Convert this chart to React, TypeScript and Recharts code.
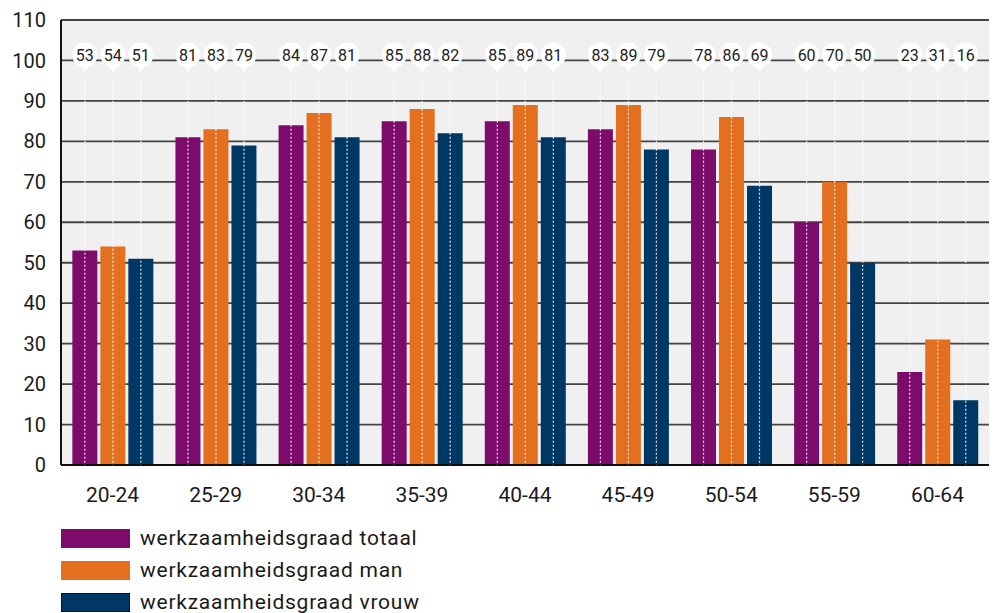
import React from 'react';
import { BarChart, Bar, XAxis, YAxis, CartesianGrid, Legend, LabelList } from 'recharts';

const ageGroups = ['20-24', '25-29', '30-34', '35-39', '40-44', '45-49', '50-54', '55-59', '60-64'];
const totaal = [53, 81, 84, 85, 85, 83, 78, 60, 23];
const man = [54, 83, 87, 88, 89, 89, 86, 70, 31];
const vrouw = [51, 79, 81, 82, 81, 78, 69, 50, 16];
// labels as printed in the pins of the reference
const totaalLabels = ['53', '81', '84', '85', '85', '83', '78', '60', '23'];
const manLabels = ['54', '83', '87', '88', '89', '89', '86', '70', '31'];
const vrouwLabels = ['51', '79', '81', '82', '81', '79', '69', '50', '16'];
const yTicks = [0, 10, 20, 30, 40, 50, 60, 70, 80, 90, 100, 110];
const boundaryTicks = [1, 2, 3, 4, 5, 6, 7, 8, 9];

const seriesNames = {
  totaal: 'werkzaamheidsgraad totaal',
  man: 'werkzaamheidsgraad man',
  vrouw: 'werkzaamheidsgraad vrouw',
};

const COLORS = { totaal: '#7d0b6c', man: '#e46f1f', vrouw: '#003865' };

const data = ageGroups.map((age, i) => ({
  age,
  totaal: totaal[i],
  man: man[i],
  vrouw: vrouw[i],
  totaalLabel: totaalLabels[i],
  manLabel: manLabels[i],
  vrouwLabel: vrouwLabels[i],
}));

const PIN_VALUE = 100;
const LINE_TOP_VALUE = 95;
const FONT = 'Roboto, "DejaVu Sans", sans-serif';

const makePin = (valueKey: 'totaal' | 'man' | 'vrouw') => (props: any) => {
  const vb = props.viewBox || {};
  const x = vb.x ?? props.x;
  const y = vb.y ?? props.y;
  const w = vb.width ?? props.width;
  const h = vb.height ?? props.height;
  const idx = props.index;
  const entry = data[idx];
  if (!entry) return null;
  const value = Number(entry[valueKey]);
  if (!value || !h) return null;
  const base = y + h;
  const ppu = h / value;
  const cx = x + w / 2;
  const lineTop = base - LINE_TOP_VALUE * ppu;
  const cy = base - PIN_VALUE * ppu - 5.5;
  return (
    <g>
      <line x1={cx} x2={cx} y1={lineTop} y2={base} stroke="#ffffff" strokeWidth={1.2} strokeDasharray="2 2" strokeOpacity={0.85} />
      <circle cx={cx} cy={cy} r={12.5} fill="#ffffff" />
      <path d={`M${cx - 6},${cy + 9} L${cx},${cy + 17} L${cx + 6},${cy + 9} Z`} fill="#ffffff" />
      <text x={cx} y={cy} dy="0.36em" textAnchor="middle" fontSize={16} fill="#222" fontFamily={FONT}>
        {props.value}
      </text>
    </g>
  );
};

const PinTotaal = makePin('totaal');
const PinMan = makePin('man');
const PinVrouw = makePin('vrouw');

const LegendContent = () => {
  const keys: Array<keyof typeof seriesNames> = ['totaal', 'man', 'vrouw'];
  return (
    <div style={{ height: 98, boxSizing: 'border-box', paddingTop: 14, paddingLeft: 61, fontFamily: FONT }}>
      {keys.map((k) => (
        <div key={k} style={{ height: 32, display: 'flex', alignItems: 'flex-start' }}>
          <div
            style={{
              width: 69,
              height: 19,
              background: COLORS[k],
              boxSizing: 'border-box',
              border: k === 'vrouw' ? '1px solid #111' : 'none',
            }}
          />
          <span style={{ marginLeft: 10, fontSize: 21, lineHeight: '19px', color: '#1a1a1a', letterSpacing: 0.75 }}>
            {seriesNames[k]}
          </span>
        </div>
      ))}
    </div>
  );
};

export default function App() {
  return (
    <div style={{ position: 'absolute', left: 0, top: 0, width: 995, height: 613, background: '#fff' }}>
      <BarChart
        width={995}
        height={613}
        data={data}
        margin={{ top: 20, right: 6, bottom: 0, left: 0 }}
        barCategoryGap="11%"
        barGap={3}
      >
        <CartesianGrid vertical={false} fill="#f0f0f0" stroke="#444" strokeWidth={1.8} />
        <XAxis
          dataKey="age"
          height={50}
          tickLine={false}
          tickMargin={16}
          axisLine={{ stroke: '#111', strokeWidth: 2 }}
          tick={{ fontSize: 21, fill: '#1a1a1a', fontFamily: FONT }}
        />
        <XAxis
          xAxisId="b"
          type="number"
          domain={[0, 9]}
          ticks={boundaryTicks}
          mirror
          height={0}
          tick={false}
          tickSize={10}
          axisLine={false}
          tickLine={{ stroke: '#333', strokeWidth: 2 }}
        />
        <YAxis
          width={61}
          domain={[0, 110]}
          ticks={yTicks}
          interval={0}
          tickLine={false}
          tickSize={0}
          tickMargin={15}
          axisLine={{ stroke: '#111', strokeWidth: 2 }}
          tick={{ fontSize: 20, fill: '#1a1a1a', fontFamily: FONT }}
        />
        <Legend verticalAlign="bottom" align="left" content={<LegendContent />} wrapperStyle={{ left: 0, bottom: 0 }} />
        <Bar dataKey="totaal" name={seriesNames.totaal} fill={COLORS.totaal} isAnimationActive={false}>
          <LabelList dataKey="totaalLabel" content={<PinTotaal />} />
        </Bar>
        <Bar dataKey="man" name={seriesNames.man} fill={COLORS.man} isAnimationActive={false}>
          <LabelList dataKey="manLabel" content={<PinMan />} />
        </Bar>
        <Bar dataKey="vrouw" name={seriesNames.vrouw} fill={COLORS.vrouw} isAnimationActive={false}>
          <LabelList dataKey="vrouwLabel" content={<PinVrouw />} />
        </Bar>
      </BarChart>
    </div>
  );
}
